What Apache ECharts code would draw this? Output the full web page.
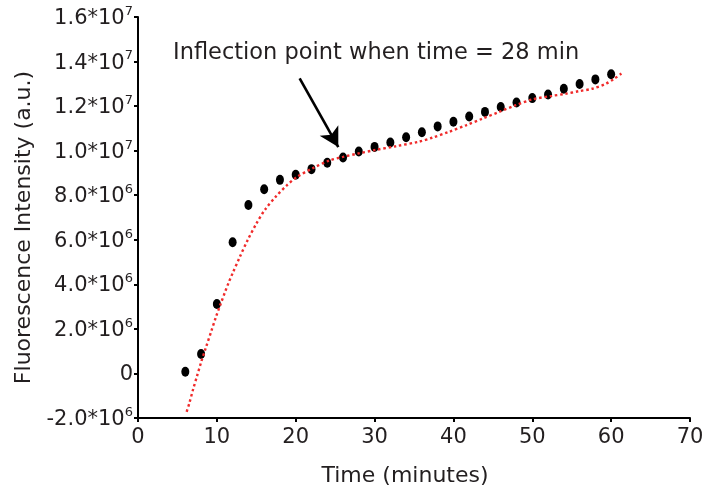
<!DOCTYPE html>
<html><head><meta charset="utf-8">
<script src="https://cdn.jsdelivr.net/npm/echarts@6/dist/echarts.min.js"></script>
<style>html,body{margin:0;padding:0;background:#fff}#c{width:726px;height:496px}</style>
</head><body><div id="c"></div>
<script>
// Measured data (time in minutes, fluorescence in a.u.)
const times = [6,8,10,12,14,16,18,20,22,24,26,28,30,32,34,36,38,40,42,44,46,48,50,52,54,56,58,60];
const intensity = [0.08e6,0.87e6,3.12e6,5.89e6,7.56e6,8.27e6,8.69e6,8.92e6,9.17e6,9.46e6,9.69e6,9.96e6,10.17e6,10.37e6,10.6e6,10.83e6,11.09e6,11.3e6,11.53e6,11.74e6,11.96e6,12.16e6,12.36e6,12.52e6,12.78e6,12.99e6,13.2e6,13.43e6];
// Fitted curve (red dotted)
const fitTimes = [6.17,6.5,7.0,7.5,8.0,8.6,9.3,9.9,10.5,11.0,11.5,12.0,12.9,13.9,15.0,16.1,17.5,18.9,20.2,22.1,24.2,26.0,28.0,30.1,32.7,35.6,37.3,39.4,41.6,43.7,45.8,47.9,50.0,52.5,54.2,55.9,57.6,59.3,60.4,61.3];
const fitValues = [-1.72e6,-1.35e6,-0.7e6,-0.1e6,0.5e6,1.15e6,1.9e6,2.55e6,3.14e6,3.62e6,4.08e6,4.5e6,5.22e6,5.98e6,6.72e6,7.35e6,7.95e6,8.45e6,8.83e6,9.2e6,9.55e6,9.72e6,9.88e6,10.03e6,10.2e6,10.4e6,10.58e6,10.84e6,11.14e6,11.44e6,11.74e6,12.04e6,12.3e6,12.46e6,12.55e6,12.67e6,12.78e6,13.0e6,13.23e6,13.46e6];
// Axis ticks
const xTickValues = [0,10,20,30,40,50,60,70];
const yTickValues = [-2e6,0,2e6,4e6,6e6,8e6,10e6,12e6,14e6,16e6];
const yTickMantissa = ['-2.0*10','0','2.0*10','4.0*10','6.0*10','8.0*10','1.0*10','1.2*10','1.4*10','1.6*10'];
const yTickExponent = ['6','','6','6','6','6','7','7','7','7'];
// Annotation
const annotationText = 'Inflection point when time = 28 min';
const arrowFrom = [20.5, 13.25e6];
const arrowTo = [25.4, 10.16e6];
const xTitle = 'Time (minutes)';
const yTitle = 'Fluorescence Intensity (a.u.)';

const FONT = 'DejaVu Sans';
const TXT = '#231f20';
const chart = echarts.init(document.getElementById('c'), null, {renderer:'canvas'});
const scatterData = times.map((t,i)=>[t,intensity[i]]);
const fitData = fitTimes.map((t,i)=>[t,fitValues[i]]);

chart.setOption({
  animation:false,
  backgroundColor:'#fff',
  grid:{left:138,right:36,top:17,bottom:78,containLabel:false},
  xAxis:{
    type:'value',min:xTickValues[0],max:xTickValues[xTickValues.length-1],interval:10,
    name:xTitle,nameLocation:'middle',nameGap:47,
    nameTextStyle:{fontFamily:FONT,fontSize:22,color:TXT,padding:[0,18,0,0]},
    axisLine:{show:true,onZero:false,lineStyle:{color:'#000',width:2}},
    axisTick:{show:true,inside:false,length:4,lineStyle:{color:'#000',width:2}},
    axisLabel:{fontFamily:FONT,fontSize:21,color:TXT,margin:9,
      formatter:v=>{const i=xTickValues.indexOf(v);return i>=0?String(xTickValues[i]):'';}},
    splitLine:{show:false}
  },
  yAxis:{
    type:'value',min:yTickValues[0],max:yTickValues[yTickValues.length-1],interval:2e6,
    name:yTitle,nameLocation:'middle',nameGap:102,nameRotate:90,
    nameTextStyle:{fontFamily:FONT,fontSize:22,color:TXT,padding:[0,20,0,0]},
    axisLine:{show:true,onZero:false,lineStyle:{color:'#000',width:2}},
    axisTick:{show:true,inside:false,length:4,lineStyle:{color:'#000',width:2}},
    axisLabel:{margin:5,
      formatter:v=>{
        const i=yTickValues.findIndex(t=>Math.abs(t-v)<1);
        if(i<0) return '';
        return '{m|'+yTickMantissa[i]+'}'+(yTickExponent[i]?'{e|'+yTickExponent[i]+'}':'');
      },
      rich:{
        m:{fontFamily:FONT,fontSize:21,color:TXT,lineHeight:24,verticalAlign:'bottom'},
        e:{fontFamily:FONT,fontSize:13,color:TXT,lineHeight:13,verticalAlign:'top'}
      }},
    splitLine:{show:false}
  },
  graphic:[{
    type:'text',left:173,top:42,z:100,
    style:{text:annotationText,fontFamily:FONT,fontSize:22.5,fill:TXT}
  }],
  series:[
    {type:'scatter',data:scatterData,symbol:'circle',symbolSize:[8,10],
      itemStyle:{color:'#000',opacity:1},z:2},
    {type:'line',data:fitData,smooth:0.3,showSymbol:false,z:3,
      lineStyle:{color:'#f02a2a',width:2.4,type:[2.5,2.8]},
      markLine:{silent:true,symbol:['none','arrow'],symbolSize:[16,19],
        label:{show:false},
        lineStyle:{color:'#000',width:2.6,type:'solid'},
        data:[[{coord:arrowFrom},{coord:arrowTo}]]}
    }
  ]
});
</script></body></html>
